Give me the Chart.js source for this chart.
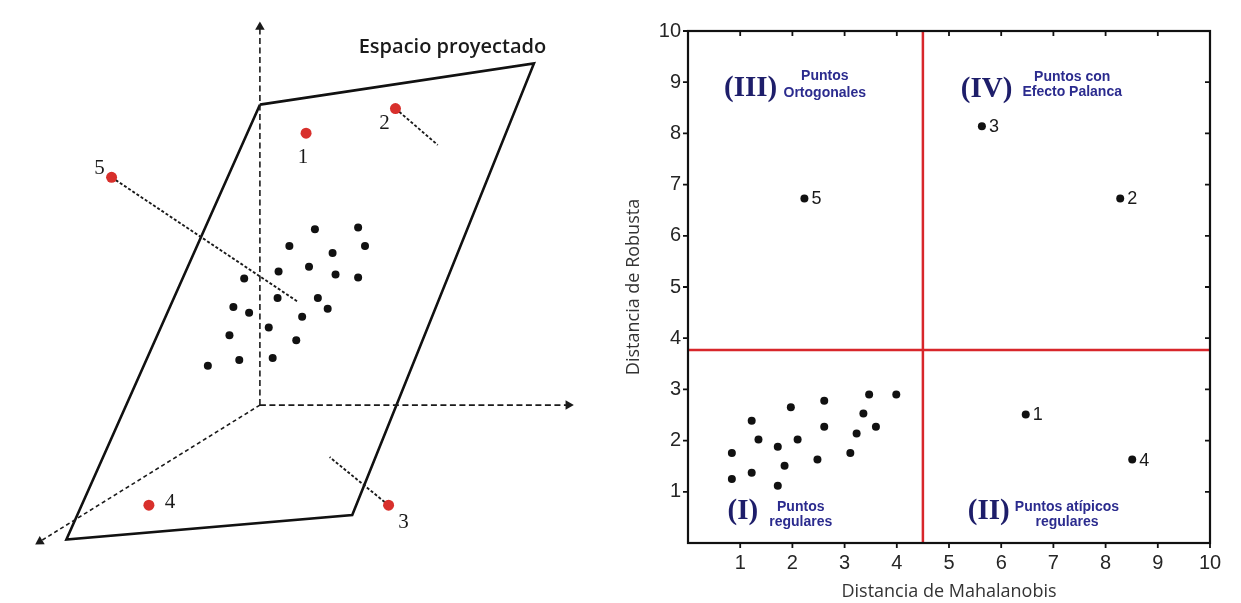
<!DOCTYPE html>
<html>
<head>
<meta charset="utf-8">
<script src="https://cdn.jsdelivr.net/npm/chart.js@4.4.1/dist/chart.umd.min.js"></script>
<style>
  html, body { margin: 0; padding: 0; background: #fff; }
  #wrap { position: relative; width: 1241px; height: 603px; }
  #sketch { position: absolute; left: 0; top: 0; }
  #chart { position: absolute; left: 620px; top: 0; }
</style>
</head>
<body>
<div id="wrap">
  <canvas id="sketch" width="620" height="603"></canvas>
  <canvas id="chart" width="621" height="603"></canvas>
</div>
<script>
// right panel: distance-distance plot
var regMaha = [0.84, 0.84, 1.22, 1.22, 1.35, 1.72, 1.72, 1.85, 1.97, 2.10, 2.48, 2.61, 2.61, 3.11, 3.23, 3.36, 3.47, 3.60, 3.99];
var regRobust = [1.76, 1.25, 2.39, 1.37, 2.02, 1.88, 1.12, 1.51, 2.65, 2.02, 1.63, 2.78, 2.27, 1.76, 2.14, 2.53, 2.90, 2.27, 2.90];
var outMaha = [6.47, 8.28, 5.63, 8.51, 2.23];
var outRobust = [2.51, 6.73, 8.14, 1.63, 6.73];
var outNames = ['1', '2', '3', '4', '5'];
var mahaCut = 4.5;
var robustCut = 3.77;
var xTickVals = [1, 2, 3, 4, 5, 6, 7, 8, 9, 10];
var yTickVals = [1, 2, 3, 4, 5, 6, 7, 8, 9, 10];

// left panel: projection sketch, in its own drawing units
var planeX = [259, 538, 353, 62, 259];
var planeY = [101, 59, 519, 544, 101];
var axisOrigin = [259, 407];
var axisTipX = [259, 573, 35];
var axisTipY = [22, 407, 546];
var cloudX = [315, 359, 289, 333, 366, 309, 278, 336, 359, 243, 277, 318, 328, 232, 248, 302, 268, 228, 296, 238, 272, 206];
var cloudY = [228, 226, 245, 252, 245, 266, 271, 274, 277, 278, 298, 298, 309, 307, 313, 317, 328, 336, 341, 361, 359, 367];
var redX = [306, 397, 390, 146, 108];
var redY = [130, 105, 509, 509, 175];
var redNames = ['1', '2', '3', '4', '5'];
var projIdx = [1, 4, 2];
var projEndX = [440, 298, 330];
var projEndY = [142, 302, 460];

function pts(xs, ys) {
  return xs.map(function (x, i) { return { x: x, y: ys[i] }; });
}

// ---------- left sketch ----------
var sketchSets = [];
sketchSets.push({ data: pts(redX, redY), pointRadius: 5.5, pointBackgroundColor: '#d8302c', pointBorderWidth: 0 });
sketchSets.push({ data: pts(cloudX, cloudY), pointRadius: 4, pointBackgroundColor: '#111', pointBorderWidth: 0 });
projIdx.forEach(function (k, i) {
  sketchSets.push({
    data: [{ x: redX[k], y: redY[k] }, { x: projEndX[i], y: projEndY[i] }],
    showLine: true, borderColor: '#1a1a1a', borderWidth: 1.9, borderDash: [3, 2], pointRadius: 0
  });
});
axisTipX.forEach(function (tx, i) {
  var dx = tx - axisOrigin[0], dy = axisTipY[i] - axisOrigin[1];
  var rot = Math.atan2(dx, -dy) * 180 / Math.PI;
  sketchSets.push({
    data: [{ x: axisOrigin[0], y: axisOrigin[1] }, { x: tx, y: axisTipY[i] }],
    showLine: true, borderColor: '#1a1a1a', borderWidth: 1.6, borderDash: i === 2 ? [4, 3] : [6, 3.5],
    pointRadius: [0, 5.5], pointStyle: 'triangle', rotation: [0, rot],
    pointBackgroundColor: '#1a1a1a', pointBorderWidth: 0
  });
});
sketchSets.push({
  data: pts(planeX, planeY), showLine: true, borderColor: '#111', borderWidth: 2.6,
  borderJoinStyle: 'miter', pointRadius: 0
});

var sketchText = {
  id: 'sketchText',
  afterDraw: function (chart) {
    var ctx = chart.ctx, sx = chart.scales.x, sy = chart.scales.y;
    var offs = [[-3, 24], [-11, 15], [15, 17], [21, -3], [-12, -9]];
    ctx.save();
    ctx.fillStyle = '#1a1a1a';
    ctx.textAlign = 'center';
    ctx.textBaseline = 'middle';
    ctx.font = '21px "Liberation Serif", "Times New Roman", serif';
    redNames.forEach(function (n, i) {
      ctx.fillText(n, sx.getPixelForValue(redX[i]) + offs[i][0], sy.getPixelForValue(redY[i]) + offs[i][1]);
    });
    ctx.font = '600 20px "Open Sans", sans-serif';
    ctx.fillStyle = '#1a1a1a';
    ctx.fillText('Espacio proyectado', sx.getPixelForValue(455), sy.getPixelForValue(43));
    ctx.restore();
  }
};

new Chart(document.getElementById('sketch'), {
  type: 'scatter',
  data: { datasets: sketchSets },
  options: {
    responsive: false,
    animation: false,
    layout: { padding: 0 },
    elements: { line: { tension: 0 } },
    scales: {
      x: { type: 'linear', min: 0, max: 620, display: false },
      y: { type: 'linear', min: 0, max: 603, reverse: true, display: false }
    },
    plugins: { legend: { display: false }, tooltip: { enabled: false } }
  },
  plugins: [sketchText]
});

// ---------- right chart ----------
var frameTicks = {
  id: 'frameTicks',
  afterDraw: function (chart) {
    var ctx = chart.ctx, a = chart.chartArea, sx = chart.scales.x, sy = chart.scales.y;
    var t = 5;
    ctx.save();
    ctx.strokeStyle = '#111';
    ctx.lineWidth = 2.2;
    ctx.strokeRect(a.left, a.top, a.right - a.left, a.bottom - a.top);
    ctx.lineWidth = 1.8;
    ctx.beginPath();
    xTickVals.forEach(function (v) {
      var px = sx.getPixelForValue(v);
      ctx.moveTo(px, a.bottom); ctx.lineTo(px, a.bottom + t);
      ctx.moveTo(px, a.top); ctx.lineTo(px, a.top + t);
    });
    yTickVals.forEach(function (v) {
      var py = sy.getPixelForValue(v);
      ctx.moveTo(a.left - t, py); ctx.lineTo(a.left, py);
      ctx.moveTo(a.right - t, py); ctx.lineTo(a.right, py);
    });
    ctx.stroke();
    ctx.restore();
  }
};

var quadText = {
  id: 'quadText',
  afterDraw: function (chart) {
    var ctx = chart.ctx, sx = chart.scales.x, sy = chart.scales.y;
    var romans = [['(III)', 1.20, 8.87], ['(IV)', 5.72, 8.85], ['(I)', 1.05, 0.61], ['(II)', 5.76, 0.61]];
    var notes = [
      ['Puntos', 2.62, 9.12], ['Ortogonales', 2.62, 8.79],
      ['Puntos con', 7.36, 9.10], ['Efecto Palanca', 7.36, 8.80],
      ['Puntos', 2.16, 0.71], ['regulares', 2.16, 0.41],
      ['Puntos atípicos', 7.26, 0.71], ['regulares', 7.26, 0.41]
    ];
    ctx.save();
    ctx.textAlign = 'center';
    ctx.textBaseline = 'middle';
    ctx.fillStyle = '#1e1e6a';
    ctx.font = 'bold 29px "Liberation Serif", "Times New Roman", serif';
    romans.forEach(function (r) { ctx.fillText(r[0], sx.getPixelForValue(r[1]), sy.getPixelForValue(r[2])); });
    ctx.fillStyle = '#2b2b8e';
    ctx.font = 'bold 14px "Liberation Sans", Arial, sans-serif';
    notes.forEach(function (r) { ctx.fillText(r[0], sx.getPixelForValue(r[1]), sy.getPixelForValue(r[2])); });

    ctx.fillStyle = '#1a1a1a';
    ctx.textAlign = 'left';
    ctx.font = '18px "Liberation Sans", Arial, sans-serif';
    outNames.forEach(function (n, i) {
      ctx.fillText(n, sx.getPixelForValue(outMaha[i]) + 7, sy.getPixelForValue(outRobust[i]) + 1);
    });
    ctx.restore();
  }
};

var tickFont = { family: '"Liberation Sans", Arial, sans-serif', size: 20 };
var titleFont = { family: '"Open Sans", sans-serif', size: 18 };

new Chart(document.getElementById('chart'), {
  type: 'scatter',
  data: {
    datasets: [
      { data: pts(outMaha, outRobust), pointRadius: 4, pointBackgroundColor: '#111', pointBorderWidth: 0 },
      { data: pts(regMaha, regRobust), pointRadius: 4, pointBackgroundColor: '#111', pointBorderWidth: 0 },
      { data: [{ x: mahaCut, y: 0 }, { x: mahaCut, y: 10 }], showLine: true, borderColor: '#d8262b', borderWidth: 2.5, pointRadius: 0 },
      { data: [{ x: 0, y: robustCut }, { x: 10, y: robustCut }], showLine: true, borderColor: '#d8262b', borderWidth: 2.5, pointRadius: 0 }
    ]
  },
  options: {
    responsive: false,
    animation: false,
    layout: { padding: { top: 31, right: 31, left: 0, bottom: 0 } },
    scales: {
      x: {
        type: 'linear', position: 'bottom', min: 0, max: 10,
        grid: { display: false, drawTicks: false }, border: { display: false },
        afterBuildTicks: function (s) { s.ticks = xTickVals.map(function (v) { return { value: v }; }); },
        afterFit: function (s) { s.height = 60; },
        ticks: { font: tickFont, color: '#262626', padding: 8, maxRotation: 0, autoSkip: false },
        title: { display: true, text: 'Distancia de Mahalanobis', font: titleFont, color: '#333', padding: { top: 0, bottom: 0 } }
      },
      y: {
        type: 'linear', position: 'left', min: 0, max: 10,
        grid: { display: false, drawTicks: false }, border: { display: false },
        afterBuildTicks: function (s) { s.ticks = yTickVals.map(function (v) { return { value: v }; }); },
        afterFit: function (s) { s.width = 68; },
        ticks: { font: tickFont, color: '#262626', padding: 7, autoSkip: false },
        title: { display: true, text: 'Distancia de Robusta', font: titleFont, color: '#333', padding: { top: 3, bottom: 0 } }
      }
    },
    plugins: { legend: { display: false }, tooltip: { enabled: false } }
  },
  plugins: [frameTicks, quadText]
});
</script>
</body>
</html>
